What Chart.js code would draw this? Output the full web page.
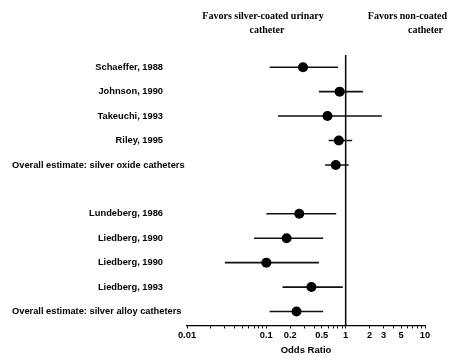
<!DOCTYPE html>
<html>
<head>
<meta charset="utf-8">
<script src="https://cdn.jsdelivr.net/npm/chart.js@4/dist/chart.umd.min.js"></script>
<style>
  html, body { margin: 0; padding: 0; background: #ffffff; }
  #wrap { width: 450px; height: 364px; }
</style>
</head>
<body>
<div id="wrap"><canvas id="c" width="450" height="364"></canvas></div>
<script>
// ---- data ----
const studies = [
  'Schaeffer, 1988', 'Johnson, 1990', 'Takeuchi, 1993', 'Riley, 1995',
  'Overall estimate: silver oxide catheters',
  null,
  'Lundeberg, 1986', 'Liedberg, 1990', 'Liedberg, 1990', 'Liedberg, 1993',
  'Overall estimate: silver alloy catheters'
];
const isOverall = [false, false, false, false, true, false, false, false, false, false, true];
const oddsRatio = [0.29, 0.84, 0.59, 0.82, 0.75, null, 0.26, 0.18, 0.10, 0.37, 0.24];
const lowerCI   = [0.11, 0.46, 0.14, 0.61, 0.55, null, 0.10, 0.07, 0.03, 0.16, 0.11];
const upperCI   = [0.80, 1.65, 2.86, 1.21, 1.09, null, 0.76, 0.52, 0.46, 0.92, 0.52];
const tickValues = [0.01,0.02,0.03,0.04,0.05,0.06,0.07,0.08,0.09,
                    0.1,0.2,0.3,0.4,0.5,0.6,0.7,0.8,0.9,
                    1,2,3,4,5,6,7,8,9,10];
const tickLabels = ['0.01', '0.1', '0.2', '0.5', '1', '2', '3', '5', '10'];
const headerLeft = ['Favors silver-coated urinary', 'catheter'];
const headerRight = ['Favors non-coated', 'catheter'];
const xTitle = 'Odds Ratio';
const nullValue = 1;

// ---- build datasets ----
const rows = studies.map((s, i) => i + 1);
const pointData = [];
const ciData = [];
oddsRatio.forEach((v, i) => {
  if (v === null) return;
  pointData.push({ x: v, y: rows[i] });
  ciData.push({ x: lowerCI[i], y: rows[i] });
  ciData.push({ x: upperCI[i], y: rows[i] });
  ciData.push({ x: null, y: null });
});
const Y_MIN = 0.5, Y_MAX = 11.57;

const labelPlugin = {
  id: 'forestLabels',
  afterDraw(chart) {
    const ctx = chart.ctx;
    const ys = chart.scales.y;
    ctx.save();
    ctx.fillStyle = '#000';
    ctx.textBaseline = 'middle';
    ctx.font = 'bold 9.3px "Liberation Sans", Arial, sans-serif';
    studies.forEach((s, i) => {
      if (!s) return;
      const y = ys.getPixelForValue(rows[i]);
      if (isOverall[i]) {
        ctx.textAlign = 'left';
        ctx.fillText(s, 12, y);
      } else {
        ctx.textAlign = 'right';
        ctx.fillText(s, 163, y);
      }
    });
    ctx.font = 'bold 10px "Liberation Serif", "Times New Roman", serif';
    ctx.textAlign = 'center';
    ctx.fillText(headerLeft[0], 263, 16);
    ctx.fillText(headerLeft[1], 267, 30);
    ctx.textAlign = 'right';
    ctx.fillText(headerRight[0], 447, 16);
    ctx.fillText(headerRight[1], 443, 30);
    ctx.restore();
  }
};

new Chart(document.getElementById('c'), {
  type: 'scatter',
  data: {
    datasets: [
      {
        type: 'line',
        data: [{ x: nullValue, y: Y_MIN }, { x: nullValue, y: Y_MAX }],
        borderColor: '#000',
        borderWidth: 1.5,
        pointRadius: 0,
        order: 3
      },
      {
        type: 'line',
        data: ciData,
        borderColor: '#111',
        borderWidth: 1.6,
        pointRadius: 0,
        spanGaps: false,
        order: 2
      },
      {
        type: 'scatter',
        data: pointData,
        backgroundColor: '#000',
        borderColor: '#000',
        borderWidth: 0,
        pointRadius: 5,
        order: 1
      }
    ]
  },
  options: {
    responsive: false,
    animation: false,
    devicePixelRatio: 1,
    layout: { padding: { left: 187, right: 25, top: 55, bottom: 4 } },
    plugins: { legend: { display: false }, tooltip: { enabled: false } },
    scales: {
      x: {
        type: 'logarithmic',
        min: 0.01,
        max: 10,
        afterBuildTicks(scale) {
          scale.ticks = tickValues.map(v => ({ value: v }));
        },
        ticks: {
          autoSkip: false,
          maxRotation: 0,
          padding: 1,
          color: '#000',
          font: { family: '"Liberation Sans", Arial, sans-serif', size: 9.3, weight: 'bold' },
          callback(v) {
            const s = String(Number(v.toPrecision(3)));
            return tickLabels.includes(s) ? s : '';
          }
        },
        grid: { drawOnChartArea: false, drawTicks: true, tickLength: 3, color: '#000', lineWidth: 1 },
        border: { display: true, color: '#000', width: 1.2 },
        title: {
          display: true,
          text: xTitle,
          color: '#000',
          padding: { top: 3, bottom: 4 },
          font: { family: '"Liberation Sans", Arial, sans-serif', size: 9.5, weight: 'bold' }
        }
      },
      y: {
        type: 'linear',
        reverse: true,
        min: Y_MIN,
        max: Y_MAX,
        display: false
      }
    }
  },
  plugins: [labelPlugin]
});
</script>
</body>
</html>
